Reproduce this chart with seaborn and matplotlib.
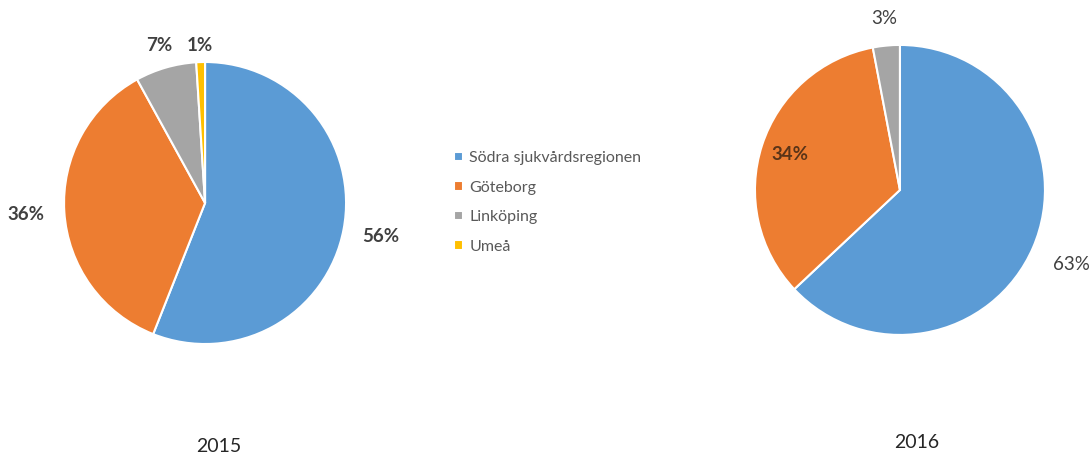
import matplotlib
matplotlib.use("Agg")
import matplotlib.pyplot as plt
import numpy as np
import seaborn as sns

sns.set_theme(style="white")
plt.rcParams["font.family"] = ["Lato", "DejaVu Sans"]

regions = ["Södra sjukvårdsregionen", "Göteborg", "Linköping", "Umeå"]
share_2015 = [56, 36, 7, 1]
share_2016 = [63, 34, 3, 0]
years = ["2015", "2016"]
colors = ["#5B9BD5", "#ED7D31", "#A5A5A5", "#FFC000"]

fig = plt.figure(figsize=(10.91, 4.62), dpi=100)
fig.patch.set_facecolor("white")

ax1 = fig.add_axes([0.0587, 0.2554, 0.2585, 0.6104])
ax2 = fig.add_axes([0.692, 0.275, 0.2658, 0.6277])


def draw_pie(ax, values, label_dist, weights, label_colors):
    wedges, _ = ax.pie(values, colors=colors, startangle=90, counterclock=False,
                       radius=1.0,
                       wedgeprops=dict(edgecolor="white", linewidth=1.5))
    total = sum(values)
    angle = 90.0
    for i, v in enumerate(values):
        if v == 0:
            continue
        ext = 360.0 * v / total
        mid = np.deg2rad(angle - ext / 2)
        angle -= ext
        d = label_dist[i]
        ax.text(d * np.cos(mid), d * np.sin(mid), f"{v}%",
                ha="center", va="center", fontsize=13.5,
                fontweight=weights[i], color=label_colors[i])
    ax.set_xlim(-1, 1)
    ax.set_ylim(-1, 1)
    ax.set_aspect("equal")
    ax.axis("off")
    return wedges


wedges = draw_pie(ax1, share_2015, [1.27, 1.27, 1.16, 1.12],
                  ["bold"] * 4, ["#404040"] * 4)
draw_pie(ax2, share_2016, [1.29, 0.8, 1.19, 1.2],
         ["normal", "bold", "normal", "normal"],
         ["#404040", "#5a3418", "#404040", "#404040"])

fig.text(219 / 1091, 1 - 447 / 462, years[0], ha="center", va="center",
         fontsize=14, color="#262626")
fig.text(917 / 1091, 1 - 442 / 462, years[1], ha="center", va="center",
         fontsize=14, color="#262626")

leg = fig.legend(wedges, regions, loc="upper left",
                 bbox_to_anchor=(454 / 1091, 1 - 151 / 462),
                 frameon=False, fontsize=11.5, labelspacing=0.98,
                 handlelength=0.55, handleheight=0.55, handletextpad=0.4,
                 borderpad=0, borderaxespad=0)
for t in leg.get_texts():
    t.set_color("#595959")

fig.savefig("out.png", dpi=100, facecolor="white")
